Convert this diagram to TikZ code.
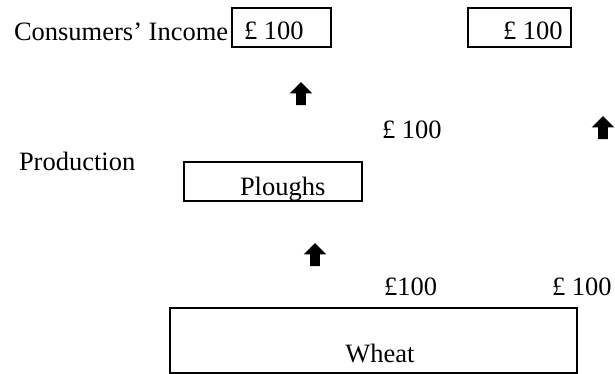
\documentclass[tikz,border=0pt]{standalone}
\usepackage{fontspec}
\setmainfont{Liberation Serif}
\usetikzlibrary{shapes.arrows}
\usetikzlibrary{positioning}
\tikzstyle{base}=[x=0.5pt, y=-0.5pt, inner sep=0pt, outer sep=0pt]
\tikzstyle{lbl}=[anchor=base west, font=\fontsize{13.25}{16}\selectfont]
\tikzstyle{box}=[black, line width=1.2pt]
\tikzstyle{uparrow}=[single arrow, shape border rotate=90, fill=black, draw=none,
    inner sep=2.25pt, minimum height=11.5pt, single arrow head extend=3.25pt]

\begin{document}
\begin{tikzpicture}[base]
    \path [use as bounding box] (0,0) rectangle (615,374);
        % consumers' income
        \draw [box] (232,8) rectangle (331,47);
        \draw [box] (468,8) rectangle (571,47);
        \node [lbl] (income) at (14,41) {Consumers' Income};
        \node [lbl] (incA) at (244,40) {£ 100};
        \node [lbl] (incB) at (503,40) {£ 100};
        \node [lbl] (midval) at (382,138) {£ 100};
        % production
        \node [lbl] (production) at (19,170) {Production};
        \draw [box] (184,162) rectangle (362,201);
        \node [lbl] (ploughs) at (240,195) {Ploughs};
        \draw [box] (170,308) rectangle (577,373);
        \node [lbl, anchor=base] (wheat) at (380,362) {Wheat};
        \node [lbl] (valA) at (384,295) {£100};
        \node [lbl] (valB) at (552,295) {£ 100};
        % arrows
        \node [uparrow] (upA) at (301,96) {};
        \node [uparrow] (upB) at (603,130) {};
        \node [uparrow] (upC) at (315,257) {};
    \end{tikzpicture}
\end{document}
